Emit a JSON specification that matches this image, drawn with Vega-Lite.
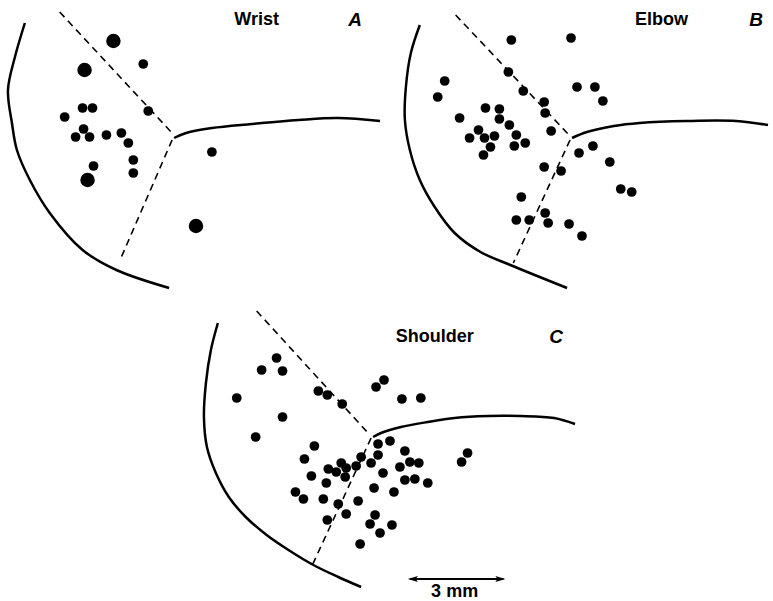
{
  "$schema": "https://vega.github.io/schema/vega-lite/v6.json",
  "width": 773,
  "height": 601,
  "autosize": {"type": "fit", "contains": "padding"},
  "padding": 0,
  "background": "white",
  "config": {"view": {"stroke": null}},
  "datasets": {
    "curves": [
      {"g": "A1", "o": 1, "x": 25, "y": 23}, {"g": "A1", "o": 2, "x": 15, "y": 57}, {"g": "A1", "o": 3, "x": 8, "y": 90}, {"g": "A1", "o": 4, "x": 12, "y": 123}, {"g": "A1", "o": 5, "x": 17, "y": 150}, {"g": "A1", "o": 6, "x": 30, "y": 180}, {"g": "A1", "o": 7, "x": 50, "y": 213}, {"g": "A1", "o": 8, "x": 83, "y": 250}, {"g": "A1", "o": 9, "x": 117, "y": 270}, {"g": "A1", "o": 10, "x": 170, "y": 288},
      {"g": "A2", "o": 1, "x": 175, "y": 138}, {"g": "A2", "o": 2, "x": 187, "y": 133}, {"g": "A2", "o": 3, "x": 213, "y": 128}, {"g": "A2", "o": 4, "x": 253, "y": 124}, {"g": "A2", "o": 5, "x": 300, "y": 120}, {"g": "A2", "o": 6, "x": 340, "y": 118}, {"g": "A2", "o": 7, "x": 382, "y": 121},
      {"g": "B1", "o": 1, "x": 422, "y": 25}, {"g": "B1", "o": 2, "x": 413, "y": 53}, {"g": "B1", "o": 3, "x": 408, "y": 87}, {"g": "B1", "o": 4, "x": 407, "y": 120}, {"g": "B1", "o": 5, "x": 412, "y": 150}, {"g": "B1", "o": 6, "x": 422, "y": 180}, {"g": "B1", "o": 7, "x": 437, "y": 207}, {"g": "B1", "o": 8, "x": 457, "y": 233}, {"g": "B1", "o": 9, "x": 483, "y": 252}, {"g": "B1", "o": 10, "x": 513, "y": 265}, {"g": "B1", "o": 11, "x": 570, "y": 288},
      {"g": "B2", "o": 1, "x": 575, "y": 138}, {"g": "B2", "o": 2, "x": 590, "y": 132}, {"g": "B2", "o": 3, "x": 617, "y": 126}, {"g": "B2", "o": 4, "x": 643, "y": 123}, {"g": "B2", "o": 5, "x": 690, "y": 121}, {"g": "B2", "o": 6, "x": 740, "y": 121}, {"g": "B2", "o": 7, "x": 772, "y": 125},
      {"g": "C1", "o": 1, "x": 219, "y": 323}, {"g": "C1", "o": 2, "x": 212, "y": 350}, {"g": "C1", "o": 3, "x": 207, "y": 383}, {"g": "C1", "o": 4, "x": 205, "y": 417}, {"g": "C1", "o": 5, "x": 208, "y": 447}, {"g": "C1", "o": 6, "x": 217, "y": 473}, {"g": "C1", "o": 7, "x": 230, "y": 497}, {"g": "C1", "o": 8, "x": 247, "y": 517}, {"g": "C1", "o": 9, "x": 268, "y": 535}, {"g": "C1", "o": 10, "x": 290, "y": 550}, {"g": "C1", "o": 11, "x": 315, "y": 565}, {"g": "C1", "o": 12, "x": 340, "y": 577}, {"g": "C1", "o": 13, "x": 363, "y": 587},
      {"g": "C2", "o": 1, "x": 375, "y": 437}, {"g": "C2", "o": 2, "x": 383, "y": 433}, {"g": "C2", "o": 3, "x": 403, "y": 427}, {"g": "C2", "o": 4, "x": 430, "y": 422}, {"g": "C2", "o": 5, "x": 457, "y": 418}, {"g": "C2", "o": 6, "x": 490, "y": 416}, {"g": "C2", "o": 7, "x": 523, "y": 416}, {"g": "C2", "o": 8, "x": 557, "y": 418}, {"g": "C2", "o": 9, "x": 578, "y": 424}
    ],
    "dashes": [
      {"g": "A1", "o": 1, "x": 60, "y": 12}, {"g": "A1", "o": 2, "x": 172, "y": 132},
      {"g": "A2", "o": 1, "x": 173, "y": 140}, {"g": "A2", "o": 2, "x": 122, "y": 257},
      {"g": "B1", "o": 1, "x": 458, "y": 15}, {"g": "B1", "o": 2, "x": 572, "y": 135},
      {"g": "B2", "o": 1, "x": 573, "y": 140}, {"g": "B2", "o": 2, "x": 516, "y": 263},
      {"g": "C1", "o": 1, "x": 258, "y": 311}, {"g": "C1", "o": 2, "x": 370, "y": 433},
      {"g": "C2", "o": 1, "x": 373, "y": 438}, {"g": "C2", "o": 2, "x": 314, "y": 565}
    ],
    "points": [
      {"p": "A", "kind": "large", "x": 114, "y": 41}, {"p": "A", "kind": "large", "x": 85, "y": 70}, {"p": "A", "kind": "small", "x": 144, "y": 64},
      {"p": "A", "kind": "small", "x": 83, "y": 108}, {"p": "A", "kind": "small", "x": 93, "y": 108}, {"p": "A", "kind": "small", "x": 65, "y": 117},
      {"p": "A", "kind": "small", "x": 149, "y": 111}, {"p": "A", "kind": "small", "x": 84, "y": 129}, {"p": "A", "kind": "small", "x": 76, "y": 137},
      {"p": "A", "kind": "small", "x": 90, "y": 137}, {"p": "A", "kind": "small", "x": 107, "y": 135}, {"p": "A", "kind": "small", "x": 122, "y": 133},
      {"p": "A", "kind": "small", "x": 129, "y": 143}, {"p": "A", "kind": "small", "x": 94, "y": 166}, {"p": "A", "kind": "small", "x": 134, "y": 160},
      {"p": "A", "kind": "small", "x": 134, "y": 173}, {"p": "A", "kind": "large", "x": 88, "y": 180}, {"p": "A", "kind": "small", "x": 213, "y": 152},
      {"p": "A", "kind": "large", "x": 197, "y": 226},
      {"p": "B", "kind": "small", "x": 514, "y": 40}, {"p": "B", "kind": "small", "x": 574, "y": 38}, {"p": "B", "kind": "small", "x": 447, "y": 81},
      {"p": "B", "kind": "small", "x": 440, "y": 97}, {"p": "B", "kind": "small", "x": 511, "y": 72}, {"p": "B", "kind": "small", "x": 526, "y": 91},
      {"p": "B", "kind": "small", "x": 580, "y": 87}, {"p": "B", "kind": "small", "x": 598, "y": 87}, {"p": "B", "kind": "small", "x": 606, "y": 101},
      {"p": "B", "kind": "small", "x": 547, "y": 102}, {"p": "B", "kind": "small", "x": 548, "y": 113}, {"p": "B", "kind": "small", "x": 488, "y": 108},
      {"p": "B", "kind": "small", "x": 502, "y": 109}, {"p": "B", "kind": "small", "x": 462, "y": 118}, {"p": "B", "kind": "small", "x": 502, "y": 119},
      {"p": "B", "kind": "small", "x": 512, "y": 125}, {"p": "B", "kind": "small", "x": 481, "y": 130}, {"p": "B", "kind": "small", "x": 472, "y": 138},
      {"p": "B", "kind": "small", "x": 487, "y": 138}, {"p": "B", "kind": "small", "x": 497, "y": 136}, {"p": "B", "kind": "small", "x": 493, "y": 147},
      {"p": "B", "kind": "small", "x": 486, "y": 155}, {"p": "B", "kind": "small", "x": 519, "y": 135}, {"p": "B", "kind": "small", "x": 517, "y": 146},
      {"p": "B", "kind": "small", "x": 528, "y": 143}, {"p": "B", "kind": "small", "x": 554, "y": 131}, {"p": "B", "kind": "small", "x": 582, "y": 153},
      {"p": "B", "kind": "small", "x": 596, "y": 146}, {"p": "B", "kind": "small", "x": 613, "y": 162}, {"p": "B", "kind": "small", "x": 547, "y": 167},
      {"p": "B", "kind": "small", "x": 564, "y": 171}, {"p": "B", "kind": "small", "x": 624, "y": 189}, {"p": "B", "kind": "small", "x": 635, "y": 192},
      {"p": "B", "kind": "small", "x": 524, "y": 197}, {"p": "B", "kind": "small", "x": 548, "y": 213}, {"p": "B", "kind": "small", "x": 551, "y": 223},
      {"p": "B", "kind": "small", "x": 519, "y": 220}, {"p": "B", "kind": "small", "x": 532, "y": 220}, {"p": "B", "kind": "small", "x": 572, "y": 224},
      {"p": "B", "kind": "small", "x": 585, "y": 236},
      {"p": "C", "kind": "small", "x": 278, "y": 358}, {"p": "C", "kind": "small", "x": 263, "y": 370}, {"p": "C", "kind": "small", "x": 284, "y": 371},
      {"p": "C", "kind": "small", "x": 238, "y": 398}, {"p": "C", "kind": "small", "x": 320, "y": 391}, {"p": "C", "kind": "small", "x": 329, "y": 395},
      {"p": "C", "kind": "small", "x": 344, "y": 404}, {"p": "C", "kind": "small", "x": 378, "y": 387}, {"p": "C", "kind": "small", "x": 386, "y": 380},
      {"p": "C", "kind": "small", "x": 404, "y": 399}, {"p": "C", "kind": "small", "x": 423, "y": 398}, {"p": "C", "kind": "small", "x": 284, "y": 417},
      {"p": "C", "kind": "small", "x": 257, "y": 437}, {"p": "C", "kind": "small", "x": 316, "y": 446}, {"p": "C", "kind": "small", "x": 306, "y": 459},
      {"p": "C", "kind": "small", "x": 380, "y": 444}, {"p": "C", "kind": "small", "x": 392, "y": 441}, {"p": "C", "kind": "small", "x": 380, "y": 455},
      {"p": "C", "kind": "small", "x": 407, "y": 451}, {"p": "C", "kind": "small", "x": 363, "y": 457}, {"p": "C", "kind": "small", "x": 373, "y": 463},
      {"p": "C", "kind": "small", "x": 343, "y": 463}, {"p": "C", "kind": "small", "x": 330, "y": 469}, {"p": "C", "kind": "small", "x": 338, "y": 472},
      {"p": "C", "kind": "small", "x": 348, "y": 468}, {"p": "C", "kind": "small", "x": 358, "y": 466}, {"p": "C", "kind": "small", "x": 347, "y": 477},
      {"p": "C", "kind": "small", "x": 313, "y": 476}, {"p": "C", "kind": "small", "x": 328, "y": 483}, {"p": "C", "kind": "small", "x": 385, "y": 473},
      {"p": "C", "kind": "small", "x": 402, "y": 467}, {"p": "C", "kind": "small", "x": 412, "y": 462}, {"p": "C", "kind": "small", "x": 421, "y": 463},
      {"p": "C", "kind": "small", "x": 407, "y": 480}, {"p": "C", "kind": "small", "x": 417, "y": 479}, {"p": "C", "kind": "small", "x": 430, "y": 483},
      {"p": "C", "kind": "small", "x": 376, "y": 488}, {"p": "C", "kind": "small", "x": 396, "y": 492}, {"p": "C", "kind": "small", "x": 297, "y": 492},
      {"p": "C", "kind": "small", "x": 305, "y": 499}, {"p": "C", "kind": "small", "x": 325, "y": 499}, {"p": "C", "kind": "small", "x": 340, "y": 504},
      {"p": "C", "kind": "small", "x": 360, "y": 501}, {"p": "C", "kind": "small", "x": 348, "y": 514}, {"p": "C", "kind": "small", "x": 329, "y": 520},
      {"p": "C", "kind": "small", "x": 377, "y": 515}, {"p": "C", "kind": "small", "x": 372, "y": 524}, {"p": "C", "kind": "small", "x": 394, "y": 525},
      {"p": "C", "kind": "small", "x": 382, "y": 533}, {"p": "C", "kind": "small", "x": 362, "y": 544}, {"p": "C", "kind": "small", "x": 470, "y": 453},
      {"p": "C", "kind": "small", "x": 464, "y": 462}
    ],
    "titles": [
      {"t": "Wrist", "x": 258, "y": 20}, {"t": "Elbow", "x": 665, "y": 20}, {"t": "Shoulder", "x": 437, "y": 337}, {"t": "3 mm", "x": 457, "y": 592}
    ],
    "letters": [
      {"t": "A", "x": 357, "y": 20}, {"t": "B", "x": 760, "y": 20}, {"t": "C", "x": 559, "y": 337}
    ],
    "bar": [{"x": 412, "x2": 506, "y": 579}],
    "heads": [{"side": "left", "x": 415, "y": 579}, {"side": "right", "x": 503, "y": 579}]
  },
  "layer": [
    {
      "data": {"name": "curves"},
      "mark": {"type": "line", "color": "black", "strokeWidth": 2.5, "interpolate": "catmull-rom"},
      "encoding": {
        "x": {"field": "x", "type": "quantitative", "scale": {"domain": [0, 773], "nice": false, "zero": false}, "axis": null},
        "y": {"field": "y", "type": "quantitative", "scale": {"domain": [601, 0], "nice": false, "zero": false}, "axis": null},
        "detail": {"field": "g"},
        "order": {"field": "o"}
      }
    },
    {
      "data": {"name": "dashes"},
      "mark": {"type": "line", "color": "black", "strokeWidth": 1.6, "strokeDash": [7, 5]},
      "encoding": {
        "x": {"field": "x", "type": "quantitative"},
        "y": {"field": "y", "type": "quantitative"},
        "detail": {"field": "g"},
        "order": {"field": "o"}
      }
    },
    {
      "data": {"name": "points"},
      "mark": {"type": "circle", "color": "black", "opacity": 1},
      "encoding": {
        "x": {"field": "x", "type": "quantitative"},
        "y": {"field": "y", "type": "quantitative"},
        "size": {"field": "kind", "type": "nominal", "scale": {"domain": ["small", "large"], "range": [95, 210]}, "legend": null}
      }
    },
    {
      "data": {"name": "titles"},
      "mark": {"type": "text", "font": "Liberation Sans", "fontSize": 18, "fontWeight": "bold", "color": "black", "align": "center", "baseline": "middle"},
      "encoding": {
        "x": {"field": "x", "type": "quantitative"},
        "y": {"field": "y", "type": "quantitative"},
        "text": {"field": "t"}
      }
    },
    {
      "data": {"name": "letters"},
      "mark": {"type": "text", "font": "Liberation Sans", "fontSize": 19, "fontWeight": "bold", "fontStyle": "italic", "color": "black", "align": "center", "baseline": "middle"},
      "encoding": {
        "x": {"field": "x", "type": "quantitative"},
        "y": {"field": "y", "type": "quantitative"},
        "text": {"field": "t"}
      }
    },
    {
      "data": {"name": "bar"},
      "mark": {"type": "rule", "color": "black", "strokeWidth": 1.8},
      "encoding": {
        "x": {"field": "x", "type": "quantitative"},
        "x2": {"field": "x2"},
        "y": {"field": "y", "type": "quantitative"}
      }
    },
    {
      "data": {"name": "heads"},
      "mark": {"type": "point", "filled": true, "color": "black", "opacity": 1, "size": 100},
      "encoding": {
        "x": {"field": "x", "type": "quantitative"},
        "y": {"field": "y", "type": "quantitative"},
        "shape": {"field": "side", "type": "nominal", "scale": {"domain": ["left", "right"], "range": ["M-1,0L1,-0.6L0.6,0L1,0.6Z", "M1,0L-1,-0.6L-0.6,0L-1,0.6Z"]}, "legend": null}
      }
    }
  ]
}
